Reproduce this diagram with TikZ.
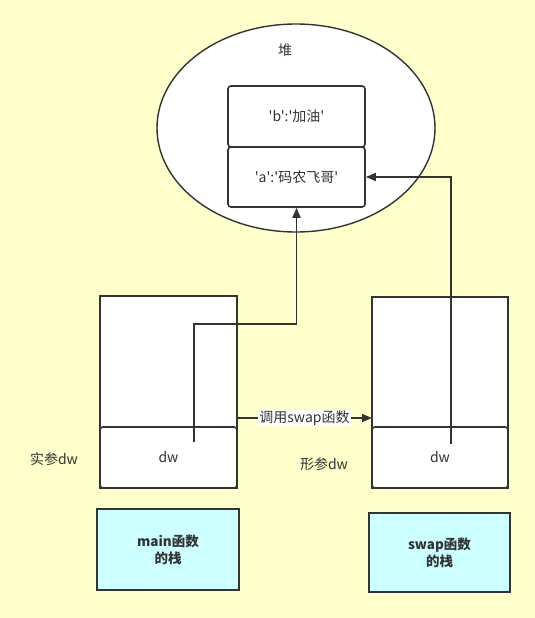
\documentclass[tikz,border=0pt]{standalone}
\usepackage{fontspec}
\setmainfont{Noto Sans CJK SC}[Ligatures=TeXOff]
\usetikzlibrary{arrows.meta,shapes.geometric}
\definecolor{bg}{HTML}{FFFFCC}
\definecolor{ln}{HTML}{333333}
\definecolor{cy}{HTML}{CCFFFF}
\definecolor{tx}{HTML}{333333}
\begin{document}
\begin{tikzpicture}[x=1pt,y=-1pt,
  every node/.style={font=\fontsize{14}{17}\selectfont, text=tx},
  cell/.style={draw=ln, line width=1.6pt, fill=white, rounded corners=3pt, inner sep=0pt},
  stackbox/.style={draw=ln, line width=1.6pt, fill=white, inner sep=0pt},
  cyanbox/.style={draw=ln, line width=1.6pt, fill=cy, inner sep=0pt, align=center, font=\fontsize{13.5}{17}\selectfont\bfseries},
  conn/.style={draw=ln, line width=1.6pt},
  tip/.style={-{Triangle[length=10pt,width=8pt]}}
]
\useasboundingbox[fill=bg] (0,0) rectangle (535,618);
% heap
\node[draw=ln, line width=1.4pt, fill=white, ellipse, minimum width=278pt, minimum height=208pt, inner sep=0pt] (heap) at (296,128) {};
\node (heaplbl) at (285,50) {堆};
\node[cell, minimum width=137pt, minimum height=61pt] (b) at (296.5,116.5) {'b':'加油'};
\node[cell, minimum width=137pt, minimum height=60pt] (a) at (296.5,177) {'a':'码农飞哥'};
% left stack
\node[stackbox, minimum width=137pt, minimum height=192pt] (ls) at (168.5,392) {};
\node[cell, minimum width=137pt, minimum height=61pt] (ldw) at (168.5,457.5) {dw};
% right stack
\node[stackbox, minimum width=136pt, minimum height=191pt] (rs) at (440,392.5) {};
\node[cell, minimum width=136pt, minimum height=61pt] (rdw) at (440,457.5) {dw};
% labels
\node (shican) at (54,459) {实参dw};
\node (xingcan) at (324,464) {形参dw};
% connectors
\coordinate (lstart) at (194,442);
\coordinate (lbend) at (194,324);
\coordinate (ltop) at (296.5,324);
\coordinate (rstart) at (451,444);
\coordinate (callA) at (237,418);
\coordinate (callB) at (372,418);
\draw[conn, tip] (lstart) -- (lbend) -- (ltop) -- (a.south);
\draw[conn, tip] (rstart) |- (a.east);
\draw[conn, tip] (callA) -- node[fill=white, inner sep=1pt] (call) {调用swap函数} (callB);
% bottom boxes
\node[cyanbox, minimum width=142pt, minimum height=81pt] (mainbox) at (168,549.5) {main函数\\的栈};
\node[cyanbox, minimum width=141pt, minimum height=79pt] (swapbox) at (439.5,552.5) {swap函数\\的栈};
\end{tikzpicture}
\end{document}
